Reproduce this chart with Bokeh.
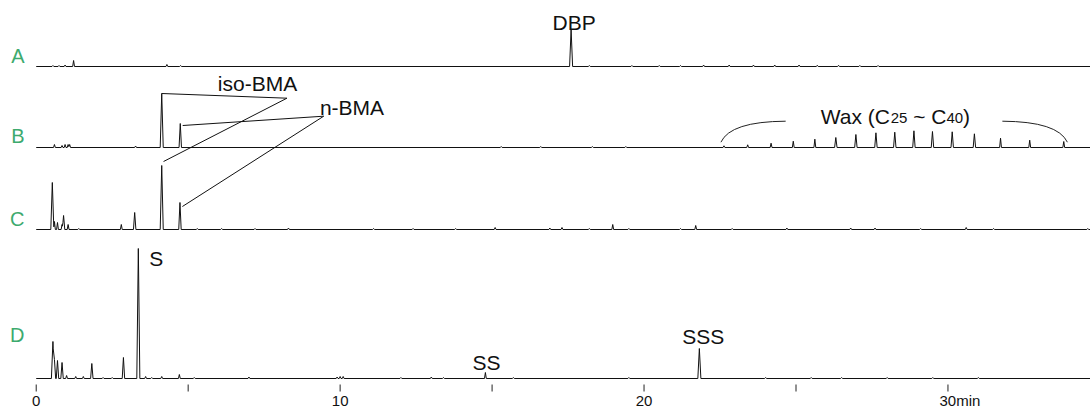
import numpy as np
from bokeh.plotting import figure
from bokeh.models import Range1d
from bokeh.embed import file_html
from bokeh.resources import INLINE
from bokeh.core.properties import value

# ---------------- data (retention time in min, peak height in detector units) -------------
trace_names = ["A", "B", "C", "D"]

a_times   = [0.55, 0.75, 0.95, 1.23, 4.30, 4.75, 17.60, 18.2, 19.6, 20.5, 21.2, 21.96,
             22.8, 23.6, 24.3, 25.1, 25.7, 26.4, 27.1, 27.7]
a_heights = [1.0, 1.0, 1.5, 6.0, 2.0, 1.0, 37.0, 1.0, 1.0, 1.0, 1.0, 1.5,
             1.5, 1.5, 1.5, 1.5, 1.2, 1.2, 1.0, 1.0]

b_times   = [0.60, 0.85, 0.95, 1.05, 1.10, 3.27, 4.13, 4.74, 15.3, 16.6, 18.3, 19.4]
b_heights = [3.0, 2.0, 3.0, 3.0, 3.0, 1.5, 54.0, 24.0, 1.0, 1.0, 1.0, 1.0]

wax_times   = [22.63, 23.41, 24.18, 24.91, 25.62, 26.31, 26.97, 27.63, 28.25, 28.88,
               29.49, 30.14, 30.87, 31.73, 32.69, 33.81]
wax_heights = [1.7, 2.7, 4.3, 6.3, 8.3, 10.0, 13.0, 14.7, 15.3, 16.7,
               16.0, 15.7, 13.7, 9.3, 7.3, 6.0]

c_times   = [0.53, 0.60, 0.70, 0.85, 0.90, 1.05, 1.40, 2.80, 3.24, 4.13, 4.73, 5.30,
             6.10, 7.20, 8.30, 11.1, 12.4, 13.8, 15.10, 16.9, 17.30, 18.2, 18.97, 19.5,
             21.2, 21.70, 22.9, 24.7, 26.8, 27.6, 29.1, 30.6, 31.5, 34.6]
c_heights = [47.0, 8.0, 7.0, 5.0, 14.0, 5.0, 1.0, 5.0, 17.0, 64.0, 27.0, 1.0,
             1.0, 1.0, 1.5, 1.0, 1.0, 1.0, 2.0, 1.5, 2.0, 1.0, 5.0, 1.0,
             1.0, 4.0, 1.0, 1.5, 1.5, 1.5, 1.0, 2.0, 1.0, 1.0]

d_times   = [0.55, 0.60, 0.70, 0.85, 1.00, 1.30, 1.55, 1.83, 2.20, 2.50, 2.87, 3.36,
             3.60, 3.80, 4.13, 4.71, 5.20, 7.00, 9.90, 10.0, 10.1, 12.0, 13.0, 13.4,
             14.78, 15.7, 19.5, 21.82, 24.0, 25.5, 26.5, 28.0, 29.5, 31.0]
d_heights = [37.0, 19.0, 18.0, 16.0, 3.0, 2.0, 2.0, 15.0, 1.0, 1.0, 21.0, 130.0,
             2.0, 1.0, 2.0, 4.0, 1.0, 1.5, 1.5, 2.0, 2.0, 1.0, 1.5, 1.0,
             6.0, 1.0, 1.0, 30.0, 1.0, 1.0, 1.0, 1.0, 1.0, 1.0]

tick_values = [0, 5, 10, 15, 20, 25, 30]
tick_labels = ["0", "", "10", "", "20", "", "30min"]

# ---------------- layout constants ----------------
T_END = 34.69
X_LO = -1.175
OFFSETS = {"A": 318, "B": 237, "C": 155, "D": 6}       # vertical stacking of the traces
LETTER_DY = {"A": 10.5, "B": 11.9, "C": 10.2, "D": 43.5}
GREEN = "#3daa6e"
INK = "#111111"
FONT = value("Liberation Sans")


def build(times, heights, t_end=T_END):
    times = np.asarray(times, float)
    heights = np.asarray(heights, float)
    widths = np.where(heights >= 30, 0.05, np.where(heights >= 10, 0.04, 0.03))
    pts = {0.0, t_end}
    for t, w in zip(times, widths):
        pts.update([t - w, t, t + w])
    xs = np.array(sorted(p for p in pts if 0.0 <= p <= t_end))
    ys = np.zeros_like(xs)
    for t, h, w in zip(times, heights, widths):
        ys += np.clip(h * (1 - np.abs(xs - t) / w), 0, None)
    return xs, ys


p = figure(width=1090, height=408, x_range=Range1d(X_LO, T_END), y_range=Range1d(-24, 384),
           output_backend="svg", toolbar_location=None, min_border=0,
           x_axis_location=None, y_axis_location=None, outline_line_color=None,
           background_fill_color="white", border_fill_color="white")
p.xgrid.visible = False
p.ygrid.visible = False

series = {
    "A": (a_times, a_heights),
    "B": (b_times + wax_times, b_heights + wax_heights),
    "C": (c_times, c_heights),
    "D": (d_times, d_heights),
}
for name in trace_names:
    xs, ys = build(*series[name])
    p.line(xs, ys + OFFSETS[name], line_color=INK, line_width=1)
    p.text(x=[-0.385], y=[OFFSETS[name] + LETTER_DY[name]], text=[name],
           text_font=FONT, text_font_size="20px", text_color=GREEN,
           text_align="right", text_baseline="middle")

# ---------------- time axis (ticks + labels) ----------------
p.segment(x0=tick_values, y0=[0] * len(tick_values), x1=tick_values, y1=[-7] * len(tick_values),
          line_color="#222222", line_width=1)
lab_x = [v for v, l in zip(tick_values, tick_labels) if l and not l.endswith("min")]
lab_t = [l for l in tick_labels if l and not l.endswith("min")]
p.text(x=lab_x, y=[-16] * len(lab_x), text=lab_t, text_font=FONT, text_font_size="15px",
       text_color=INK, text_align="center", text_baseline="middle")
last_x = [v for v, l in zip(tick_values, tick_labels) if l.endswith("min")]
last_t = [l for l in tick_labels if l.endswith("min")]
p.text(x=last_x, y=[-16] * len(last_x), text=last_t, text_font=FONT, text_font_size="15px",
       text_color=INK, text_align="left", text_baseline="middle", x_offset=-8.5)

# ---------------- peak annotations ----------------
def top(trace, times, heights, i):
    return times[i], heights[i] + OFFSETS[trace]

ANN = dict(text_font=FONT, text_font_size="21px", text_color=INK, text_baseline="middle")

# DBP
tx, ty = top("A", a_times, a_heights, a_times.index(17.60))
p.text(x=[tx], y=[ty + 7.5], text=["DBP"], text_align="center", x_offset=3, **ANN)

# iso-BMA
bx, by = top("B", b_times, b_heights, b_times.index(4.13))
cx, cy = top("C", c_times, c_heights, c_times.index(4.13))
iso_j = (8.25, 286.3)
p.line([bx, iso_j[0], cx + 0.06], [by, iso_j[1], cy + 4], line_color=INK, line_width=1)
p.text(x=[7.28], y=[301.5], text=["iso-BMA"], text_align="center", **ANN)

# n-BMA
bx, by = top("B", b_times, b_heights, b_times.index(4.74))
cx, cy = top("C", c_times, c_heights, c_times.index(4.73))
n_j = (9.46, 268.3)
p.line([bx + 0.08, n_j[0], cx + 0.08], [by - 2, n_j[1], cy - 4], line_color=INK, line_width=1)
p.text(x=[10.39], y=[277.5], text=["n-BMA"], text_align="center", **ANN)

# S / SS / SSS
sx, sy = top("D", d_times, d_heights, d_times.index(3.36))
p.text(x=[sx], y=[125.8], text=["S"], text_align="left", x_offset=11, **ANN)
sx, sy = top("D", d_times, d_heights, d_times.index(14.78))
p.text(x=[sx], y=[sy + 10.2], text=["SS"], text_align="center", x_offset=1, **ANN)
sx, sy = top("D", d_times, d_heights, d_times.index(21.82))
p.text(x=[sx], y=[sy + 12.2], text=["SSS"], text_align="center", x_offset=4, **ANN)

# Wax bracket and label
wl, wr = wax_times[0] - 0.10, wax_times[-1] + 0.12
yb = OFFSETS["B"]
p.quadratic(x0=[wl, wr], y0=[yb + 5.3, yb + 5.3], x1=[24.66, 31.79], y1=[yb + 26.3, yb + 26.3],
            cx=[wl + 0.31, wr - 0.32], cy=[yb + 26.0, yb + 26.0], line_color="#222222", line_width=1)

F_BIG, F_SMALL = 21, 15
em = {"W": .944, "a": .556, "x": .5, " ": .278, "(": .333, "C": .722, "2": .556, "5": .556,
      "~": .584, "4": .556, "0": .556, ")": .333}
pieces = [("Wax (C", F_BIG, 0.0), ("25", F_SMALL, 0.0), ("~ C", F_BIG, em[" "] * F_BIG),
          ("40", F_SMALL, 0.0), (")", F_BIG, 0.0)]
total = sum(sum(em[ch] for ch in s) * f + pre for s, f, pre in pieces)
off = -total / 2
y_mid = yb + 31.2
for s, f, pre in pieces:
    off += pre
    dy = 0.0 if f == F_BIG else -(0.358 * (F_BIG - F_SMALL))
    p.text(x=[28.27], y=[y_mid + dy], text=[s], text_font=FONT, text_font_size=f"{f}px",
           text_color=INK, text_align="left", text_baseline="middle", x_offset=off)
    off += sum(em[ch] for ch in s) * f

open("out.html", "w").write(file_html(p, INLINE))
